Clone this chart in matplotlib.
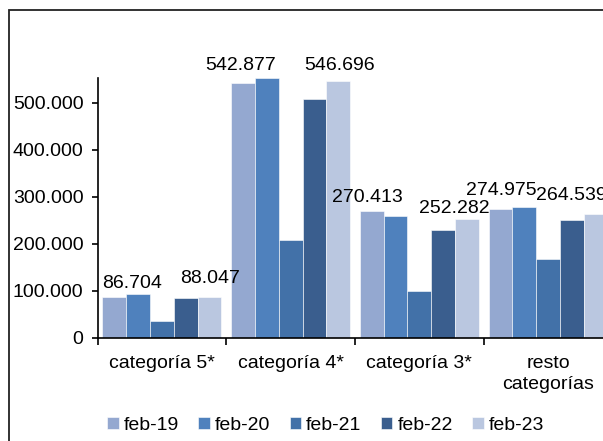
import numpy as np
import matplotlib
matplotlib.use("Agg")
import matplotlib.pyplot as plt
from matplotlib.patches import Rectangle
from matplotlib.ticker import FuncFormatter

plt.rcParams['font.family'] = ['Liberation Sans', 'DejaVu Sans']

categories = ["categoría 5*", "categoría 4*", "categoría 3*", "resto\ncategorías"]
series = ["feb-19", "feb-20", "feb-21", "feb-22", "feb-23"]
feb19 = [86704, 542877, 270413, 274975]
feb20 = [93000, 553000, 260000, 278500]
feb21 = [37000, 208000, 100000, 167500]
feb22 = [86000, 509000, 230000, 252000]
feb23 = [88047, 546696, 252282, 264539]
colors = ["#94A8D0", "#4F81BD", "#4271A8", "#3A5E8E", "#BAC7E0"]

# labels shown only on first and last series, with pixel nudges
label_dx = {0: [18, -2, -4, 1], 4: [1, 1, -13, -24]}
label_dy = {0: [9, 13, 9, 14], 4: [14, 11, 6, 14]}

data = [feb19, feb20, feb21, feb22, feb23]
fs = 14

fig = plt.figure(figsize=(6.03, 4.41), dpi=100)
ax = fig.add_axes([97.5 / 603, 103 / 441, 515 / 603, 260 / 441])

x = np.arange(len(categories))
w = 0.185
for i, (name, vals) in enumerate(zip(series, data)):
    pos = x + (i - 2) * w
    ax.bar(pos, vals, width=w, color=colors[i], label=name,
           edgecolor="white", linewidth=0.4, zorder=2)
    if i in label_dx:
        for j, v in enumerate(vals):
            ax.annotate(f"{v:,}".replace(",", "."), (pos[j], v),
                        xytext=(label_dx[i][j], label_dy[i][j]),
                        textcoords="offset pixels", ha="center",
                        va="baseline", fontsize=fs, zorder=5,
                        annotation_clip=False)

ax.set_xlim(-0.5, 3.5)
ax.set_ylim(0, 553000)
ax.set_yticks([0, 100000, 200000, 300000, 400000, 500000])
ax.yaxis.set_major_formatter(FuncFormatter(lambda v, p: f"{int(v):,}".replace(",", ".")))
ax.set_xticks(x)
ax.set_xticklabels(categories, fontsize=fs, linespacing=1.35)
ax.set_xticks(np.arange(-0.5, 4.0, 1.0), minor=True)
ax.tick_params(axis="x", which="major", length=0, pad=12)
ax.tick_params(axis="x", which="minor", length=5, width=1.2, direction="out")
ax.tick_params(axis="y", labelsize=fs, length=4, width=1.2, direction="out", pad=6)

for s in ["top", "right"]:
    ax.spines[s].set_visible(False)
for s in ["left", "bottom"]:
    ax.spines[s].set_linewidth(1.2)

fig.legend(loc="center", bbox_to_anchor=(0.54, 0.036), ncol=5, frameon=False,
           fontsize=fs, handlelength=0.58, handleheight=0.58,
           handletextpad=0.25, columnspacing=1.02)

fig.patches.append(Rectangle((8.5 / 603, -0.1), 1.2, 1.1 - 10.5 / 441,
                             transform=fig.transFigure, fill=False,
                             edgecolor="#222222", linewidth=1.3))

fig.savefig("out.png", dpi=100)
